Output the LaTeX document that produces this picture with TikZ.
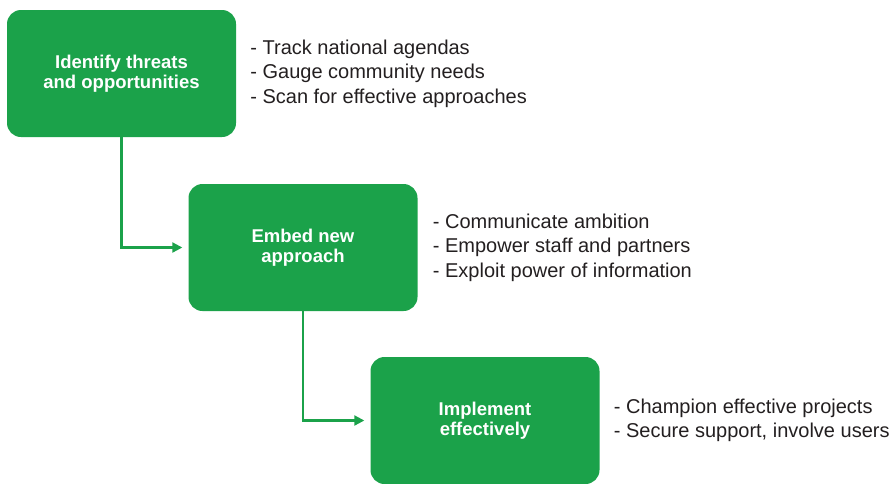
\documentclass[tikz,border=0pt]{standalone}
\usepackage{fontspec}
\setmainfont{Liberation Sans}
\usetikzlibrary{positioning,arrows.meta}

\definecolor{boxgreen}{RGB}{27,162,74}
\definecolor{listgray}{RGB}{35,31,32}

\tikzset{
  stepbox/.style={fill=boxgreen, rounded corners=14pt, minimum width=229pt,
    minimum height=127pt, align=center, text=white,
    font=\fontsize{18.5}{20.5}\selectfont\bfseries},
  points/.style={align=left, text=listgray, inner sep=0pt,
    font=\fontsize{20}{24.5}\selectfont},
  flow/.style={boxgreen, line width=2.2pt, -{Triangle[length=10pt,width=10pt]},
    shorten >=6pt}
}

\begin{document}
\begin{tikzpicture}[x=1pt,y=-1pt]
  \useasboundingbox (0,0) rectangle (891,483);
  \begin{scope}
  \clip (0,0) rectangle (891,483);

  % The three steps
  \node[stepbox] (identify) at (121.5,73.5) {Identify threats\\and opportunities};
  \node[stepbox] (embed) at (303,247.5) {Embed new\\approach};
  \node[stepbox] (implement) at (485,420.5) {Implement\\effectively};

  % What each step involves
  \node[points, right=14pt of identify] (identifylist)
    {- Track national agendas\\- Gauge community needs\\- Scan for effective approaches};
  \node[points, right=15pt of embed] (embedlist)
    {- Communicate ambition\\- Empower staff and partners\\- Exploit power of information};
  \node[points, right=14pt of implement] (implementlist)
    {- Champion effective projects\\- Secure support, involve users};

  % Connectors
  \draw[flow] (identify.south) |- (embed.west);
  \draw[flow] (embed.south) |- (implement.west);
  \end{scope}
\end{tikzpicture}
\end{document}
